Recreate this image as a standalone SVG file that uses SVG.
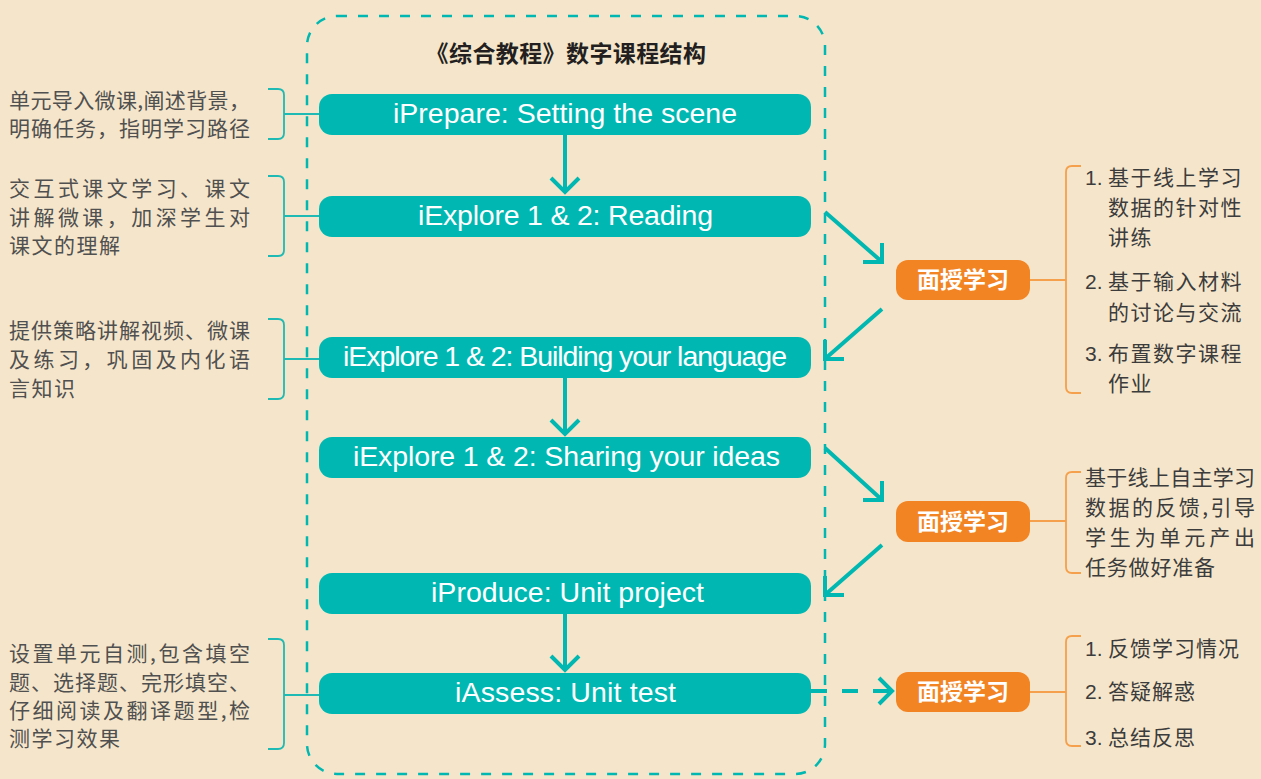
<svg xmlns="http://www.w3.org/2000/svg" width="1261" height="779" viewBox="0 0 1261 779">
<style>
.bg{fill:#F5E6CB}
.tbox{fill:#00B8B1}
.obox{fill:#F28424}
.ttxt{font-family:"Liberation Sans",Arial,sans-serif;font-size:28.5px;fill:#FFFFFF}
.otxt{font-family:"Noto Sans CJK SC","Noto Sans",sans-serif;font-size:23px;font-weight:700;fill:#FFFFFF}
.title{font-family:"Noto Sans CJK SC",sans-serif;font-size:23px;font-weight:700;fill:#231F20;letter-spacing:0.4px}
.ltxt{font-family:"Noto Sans CJK SC",sans-serif;font-size:21px;fill:#505050}
.rtxt{font-family:"Noto Sans CJK SC",sans-serif;font-size:21px;fill:#3C3C3C}
.num{font-family:"Liberation Sans",Arial,sans-serif;font-size:21px;fill:#3C3C3C}
.arrow{fill:none;stroke:#00B8B1;stroke-width:4}
.tbr{fill:none;stroke:#1FBAB3;stroke-width:1.8}
.obr{fill:none;stroke:#F5A04C;stroke-width:1.8}
.frame{fill:none;stroke:#00B8B1;stroke-width:2.5;stroke-dasharray:10 11}
</style>
<rect class="bg" x="0" y="0" width="1261" height="779"/>

<g id="left-notes">
  <path class="tbr" d="M268,89 H278 Q284,89 284,95 V133 Q284,139 278,139 H268 M284,114 H320"/>
  <text class="ltxt" x="9" y="108" textLength="241" lengthAdjust="spacing">单元导入微课,阐述背景，</text>
  <text class="ltxt" x="9" y="136" textLength="241" lengthAdjust="spacing">明确任务，指明学习路径</text>

  <path class="tbr" d="M268,176 H278 Q284,176 284,182 V250 Q284,256 278,256 H268 M284,216 H320"/>
  <text class="ltxt" x="9" y="196" textLength="241" lengthAdjust="spacing">交互式课文学习、课文</text>
  <text class="ltxt" x="9" y="225" textLength="241" lengthAdjust="spacing">讲解微课，加深学生对</text>
  <text class="ltxt" x="9" y="253" letter-spacing="1.5">课文的理解</text>

  <path class="tbr" d="M268,319 H278 Q284,319 284,325 V393 Q284,399 278,399 H268 M284,359 H320"/>
  <text class="ltxt" x="9" y="338" textLength="241" lengthAdjust="spacing">提供策略讲解视频、微课</text>
  <text class="ltxt" x="9" y="367" textLength="241" lengthAdjust="spacing">及练习，巩固及内化语</text>
  <text class="ltxt" x="9" y="396" letter-spacing="1.5">言知识</text>

  <path class="tbr" d="M268,639 H278 Q284,639 284,645 V743 Q284,749 278,749 H268 M284,695 H320"/>
  <text class="ltxt" x="9" y="661" textLength="241" lengthAdjust="spacing">设置单元自测,包含填空</text>
  <text class="ltxt" x="9" y="690" textLength="241" lengthAdjust="spacing">题、选择题、完形填空、</text>
  <text class="ltxt" x="9" y="718" textLength="241" lengthAdjust="spacing">仔细阅读及翻译题型,检</text>
  <text class="ltxt" x="9" y="746" letter-spacing="1.5">测学习效果</text>
</g>

<g id="frame">
  <rect class="frame" x="307" y="16" width="518" height="758" rx="30" ry="30"/>
  <text class="title" x="566" y="62" text-anchor="middle">《综合教程》数字课程结构</text>
</g>

<g id="connectors">
  <path class="arrow" d="M565,135 V191 M551,178 L565,192 L579,178"/>
  <path class="arrow" d="M565,378 V433 M551,420 L565,434 L579,420"/>
  <path class="arrow" d="M565,614 V669 M551,656 L565,670 L579,656"/>
  <path class="arrow" d="M825,212 L881,261 M863,262 H882 V243"/>
  <path class="arrow" d="M882,309 L826,358 M844,359 H825 V340"/>
  <path class="arrow" d="M825,448 L881,499 M863,500 H882 V481"/>
  <path class="arrow" d="M882,545 L826,594 M844,595 H825 V576"/>
  <line class="arrow" x1="811" y1="691" x2="889" y2="691" stroke-dasharray="16 15"/>
  <path class="arrow" d="M879,678 L892,691 L879,704"/>
  <path class="obr" d="M1030,280 H1066 M1081,166 H1072 Q1066,166 1066,172 V387 Q1066,393 1072,393 H1081"/>
  <path class="obr" d="M1030,521 H1066 M1081,472 H1072 Q1066,472 1066,478 V567 Q1066,573 1072,573 H1081"/>
  <path class="obr" d="M1030,692 H1066 M1081,636 H1072 Q1066,636 1066,642 V740 Q1066,746 1072,746 H1081"/>
</g>

<g id="n-prepare">
  <rect class="tbox" x="319" y="94" width="492" height="41" rx="13"/>
  <text class="ttxt" x="393" y="123" textLength="344" lengthAdjust="spacing">iPrepare: Setting the scene</text>
</g>
<g id="n-reading">
  <rect class="tbox" x="319" y="196" width="492" height="41" rx="13"/>
  <text class="ttxt" x="418" y="225" textLength="295" lengthAdjust="spacing">iExplore 1 &amp; 2: Reading</text>
</g>
<g id="n-building">
  <rect class="tbox" x="319" y="337" width="492" height="41" rx="13"/>
  <text class="ttxt" x="343" y="366" textLength="444" lengthAdjust="spacing">iExplore 1 &amp; 2: Building your language</text>
</g>
<g id="n-sharing">
  <rect class="tbox" x="319" y="437" width="492" height="41" rx="13"/>
  <text class="ttxt" x="353" y="466" textLength="427" lengthAdjust="spacing">iExplore 1 &amp; 2: Sharing your ideas</text>
</g>
<g id="n-produce">
  <rect class="tbox" x="319" y="573" width="492" height="41" rx="13"/>
  <text class="ttxt" x="431" y="602" textLength="273" lengthAdjust="spacing">iProduce: Unit project</text>
</g>
<g id="n-assess">
  <rect class="tbox" x="319" y="673" width="492" height="41" rx="13"/>
  <text class="ttxt" x="455" y="702" textLength="221" lengthAdjust="spacing">iAssess: Unit test</text>
</g>

<g id="f2f-1">
  <rect class="obox" x="896" y="260" width="134" height="40" rx="12"/>
  <text class="otxt" x="963" y="288" text-anchor="middle">面授学习</text>
</g>
<g id="f2f-2">
  <rect class="obox" x="896" y="501" width="134" height="41" rx="12"/>
  <text class="otxt" x="963" y="529.5" text-anchor="middle">面授学习</text>
</g>
<g id="f2f-3">
  <rect class="obox" x="896" y="672" width="134" height="40" rx="12"/>
  <text class="otxt" x="963" y="700" text-anchor="middle">面授学习</text>
</g>

<g id="right-notes-1">
  <text class="num" x="1085" y="185">1.</text>
  <text class="rtxt" x="1108" y="185" letter-spacing="1.5">基于线上学习</text>
  <text class="rtxt" x="1108" y="215" letter-spacing="1.5">数据的针对性</text>
  <text class="rtxt" x="1108" y="245" letter-spacing="1.5">讲练</text>
  <text class="num" x="1085" y="289">2.</text>
  <text class="rtxt" x="1108" y="289" letter-spacing="1.5">基于输入材料</text>
  <text class="rtxt" x="1108" y="320" letter-spacing="1.5">的讨论与交流</text>
  <text class="num" x="1085" y="361">3.</text>
  <text class="rtxt" x="1108" y="361" letter-spacing="1.5">布置数字课程</text>
  <text class="rtxt" x="1108" y="391" letter-spacing="1.5">作业</text>
</g>
<g id="right-notes-2">
  <text class="rtxt" x="1085" y="485" textLength="170" lengthAdjust="spacing">基于线上自主学习</text>
  <text class="rtxt" x="1085" y="515" textLength="170" lengthAdjust="spacing">数据的反馈,引导</text>
  <text class="rtxt" x="1085" y="545" textLength="170" lengthAdjust="spacing">学生为单元产出</text>
  <text class="rtxt" x="1085" y="575" letter-spacing="0.8">任务做好准备</text>
</g>
<g id="right-notes-3">
  <text class="num" x="1085" y="656">1.</text>
  <text class="rtxt" x="1108" y="656" letter-spacing="1">反馈学习情况</text>
  <text class="num" x="1085" y="699">2.</text>
  <text class="rtxt" x="1108" y="699" letter-spacing="1">答疑解惑</text>
  <text class="num" x="1085" y="745">3.</text>
  <text class="rtxt" x="1108" y="745" letter-spacing="1">总结反思</text>
</g>
</svg>
